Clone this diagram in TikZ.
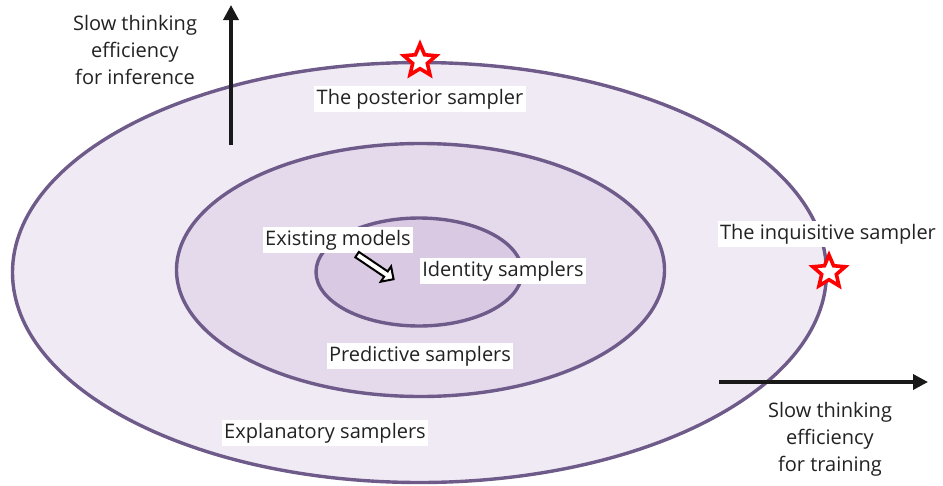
\documentclass[tikz,border=0pt]{standalone}
\usepackage{fontspec}
\setmainfont{Open Sans}
\usetikzlibrary{shapes.geometric,shapes.arrows,arrows.meta}
\definecolor{ringline}{HTML}{6F5B8A}
\definecolor{outerfill}{HTML}{F0EAF5}
\definecolor{midfill}{HTML}{E5D9EC}
\definecolor{innerfill}{HTML}{D9C9E3}
\definecolor{txt}{HTML}{222222}
\tikzset{
  ring/.style={draw=ringline, line width=3.4pt},
  lbl/.style={fill=white, text=txt, font=\fontsize{20}{22}\selectfont, inner xsep=2.5pt, inner ysep=3pt},
  axlbl/.style={text=txt, font=\fontsize{20}{27}\selectfont, align=center},
  axis/.style={line width=3.5pt, draw=black!90, -{Triangle[length=15pt,width=15pt]}},
  redstar/.style={star, star points=5, star point ratio=2.2, draw=red, fill=white, line width=3.6pt, minimum size=34pt, inner sep=0pt}
}
\begin{document}
\begin{tikzpicture}[x=1pt,y=-1pt]
\useasboundingbox (0,0) rectangle (943,485);
\fill[white] (0,0) rectangle (943,485);
% rings
\draw[ring, fill=outerfill] (419.5,272.5) ellipse [x radius=407, y radius=210];
\draw[ring, fill=midfill] (420.5,270) ellipse [x radius=244, y radius=126.5];
\draw[ring, fill=innerfill] (419,272) ellipse [x radius=103, y radius=54];
% axes
\coordinate (vbot) at (231,145);
\coordinate (vtop) at (231,5);
\coordinate (hl) at (719,382);
\coordinate (hr) at (928,382);
\draw[axis] (vbot) -- (vtop);
\draw[axis] (hl) -- (hr);
\node[axlbl] (inf) at (135,50) {Slow thinking\\efficiency\\for inference};
\node[axlbl] (trn) at (830,439) {Slow thinking\\efficiency\\for training};
% stars
\node[redstar] (s1) at (420,61) {};
\node[redstar] (s2) at (829,272) {};
% labels
\node[lbl] (post) at (420,99) {The posterior sampler};
\node[lbl] (inq) at (828,234) {The inquisitive sampler};
\node[lbl] (exist) at (338,240) {Existing models};
\node[lbl] (ident) at (503,271) {Identity samplers};
\node[lbl] (pred) at (420,356) {Predictive samplers};
\node[lbl] (expl) at (325,433) {Explanatory samplers};
% hollow arrow
\node[single arrow, draw=black, fill=white, line width=2pt, minimum height=44pt, inner sep=2.2pt, single arrow head extend=6pt, rotate=-34] (earr) at (374,266) {};
\end{tikzpicture}
\end{document}
